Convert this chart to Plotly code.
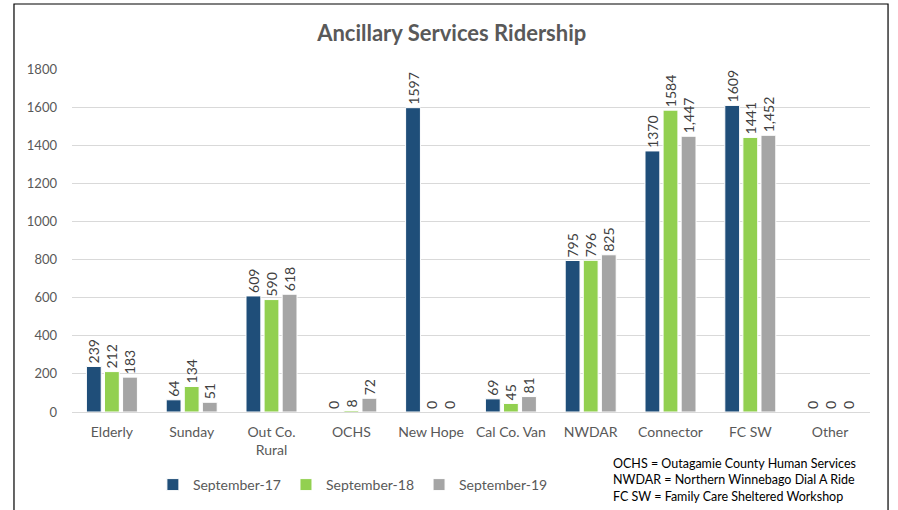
import plotly.graph_objects as go

categories = ["Elderly", "Sunday", "Out Co.<br>Rural", "OCHS", "New Hope",
              "Cal Co. Van", "NWDAR", "Connector", "FC SW", "Other"]
sep17 = [239, 64, 609, 0, 1597, 69, 795, 1370, 1609, 0]
sep18 = [212, 134, 590, 8, 0, 45, 796, 1584, 1441, 0]
sep19 = [183, 51, 618, 72, 0, 81, 825, 1447, 1452, 0]
series_names = ["September-17", "September-18", "September-19"]
colors = ["#1F4E79", "#92D050", "#A5A5A5"]
y_ticks = [0, 200, 400, 600, 800, 1000, 1200, 1400, 1600, 1800]

texts = [
    [str(v) for v in sep17],
    [str(v) for v in sep18],
    [f"{v:,}" for v in sep19],
]

font_family = "Lato, 'Open Sans', sans-serif"
fig = go.Figure()
for name, vals, col, txt in zip(series_names, [sep17, sep18, sep19], colors, texts):
    fig.add_trace(go.Bar(
        x=categories, y=vals, name=name,
        marker=dict(color=col, line=dict(color="white", width=1)),
        text=txt, textposition="outside", textangle=-90,
        constraintext="none", cliponaxis=False,
        textfont=dict(size=14, color="#404040", family=font_family),
    ))

fig.update_layout(
    width=898, height=510,
    margin=dict(l=72, r=28, t=69, b=98),
    paper_bgcolor="white", plot_bgcolor="white",
    barmode="group", bargap=0.32, bargroupgap=0.18,
    font=dict(family=font_family, color="#595959"),
    title=dict(text="<b>Ancillary Services Ridership</b>", x=0.503, xanchor="center",
               y=0.935, yanchor="middle",
               font=dict(size=22, color="#595959", family=font_family)),
    showlegend=True,
    legend=dict(orientation="h", xref="paper", yref="container",
                x=0.352, xanchor="center", y=1 - 485 / 510, yanchor="middle",
                font=dict(size=14, color="#595959"), itemwidth=30, traceorder="normal"),
    xaxis=dict(tickfont=dict(size=14, color="#595959"), showline=False, ticks="",
               automargin=False, ticklabelstandoff=10),
    yaxis=dict(range=[0, 1800], tickvals=y_ticks, showgrid=True, gridcolor="#D9D9D9",
               zeroline=True, zerolinecolor="#D9D9D9", zerolinewidth=1,
               tickfont=dict(size=13, color="#595959"), ticks="", ticklabelstandoff=14,
               automargin=False),
    shapes=[dict(type="rect", xref="paper", yref="paper",
                 x0=-0.0727, x1=1.0226, y0=-0.35, y1=1.1895,
                 line=dict(color="black", width=1.2), fillcolor="rgba(0,0,0,0)")],
    annotations=[dict(
        text="OCHS = Outagamie County Human Services<br>NWDAR = Northern Winnebago Dial A Ride<br>FC SW = Family Care Sheltered Workshop",
        xref="paper", yref="paper", x=0.675, y=-0.198, xanchor="left", yanchor="middle",
        align="left", showarrow=False, font=dict(size=12.5, color="black", family=font_family))],
)

fig.write_html("out.html", config={"displayModeBar": False},
               post_script="document.body.style.margin='0';document.body.style.overflow='hidden';")
